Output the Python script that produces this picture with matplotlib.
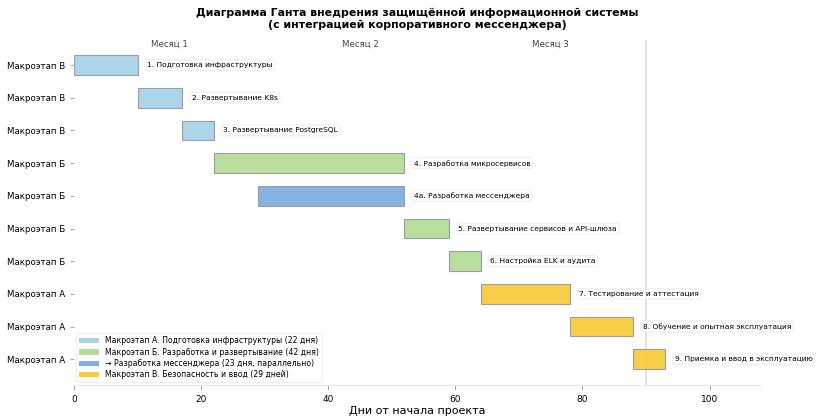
import matplotlib.pyplot as plt
from matplotlib.patches import Patch

plt.rcParams['font.family'] = ['DejaVu Sans']

# tasks (top to bottom)
task_names = [
    "1. Подготовка инфраструктуры",
    "2. Развертывание K8s",
    "3. Развертывание PostgreSQL",
    "4. Разработка микросервисов",
    "4а. Разработка мессенджера",
    "5. Развертывание сервисов и API-шлюза",
    "6. Настройка ELK и аудита",
    "7. Тестирование и аттестация",
    "8. Обучение и опытная эксплуатация",
    "9. Приемка и ввод в эксплуатацию",
]
starts = [0, 10, 17, 22, 29, 52, 59, 64, 78, 88]
durations = [10, 7, 5, 30, 23, 7, 5, 14, 10, 5]
groups = ["A", "A", "A", "B", "M", "B", "B", "C", "C", "C"]
# y tick labels as they appear on the chart
ytick_labels = ["Макроэтап В"] * 3 + ["Макроэтап Б"] * 4 + ["Макроэтап А"] * 3

group_colors = {"A": "#a9d3e8", "B": "#b5dd98", "M": "#7fb0e0", "C": "#f8cb3e"}
legend_labels = [
    ("A", "Макроэтап А. Подготовка инфраструктуры (22 дня)"),
    ("B", "Макроэтап Б. Разработка и развертывание (42 дня)"),
    ("M", "→ Разработка мессенджера (23 дня, параллельно)"),
    ("C", "Макроэтап В. Безопасность и ввод (29 дней)"),
]

month_names = ["Месяц 1", "Месяц 2", "Месяц 3"]
month_centers = [15, 45, 75]
month_lines = [90]

fig, ax = plt.subplots(figsize=(8.22, 4.16), dpi=100)
fig.subplots_adjust(left=0.09, right=0.925, top=0.905, bottom=0.075)

ypos = list(range(len(task_names)))
for y, s, d, g, name in zip(ypos, starts, durations, groups, task_names):
    ax.barh(y, d, left=s, height=0.6, color=group_colors[g],
            edgecolor="#9a9a9a", linewidth=0.8, alpha=0.95)
    ax.text(s + d + 1.5, y, name, va="center", ha="left", fontsize=5.4,
            bbox=dict(boxstyle="round,pad=0.3", facecolor="white",
                      edgecolor="#eeeeee", alpha=0.8))

for m in month_lines:
    ax.axvline(m, color="#dddddd", linewidth=1.2, zorder=0)

ax.set_yticks(ypos)
ax.set_yticklabels(ytick_labels, fontsize=6.2)
ax.invert_yaxis()
ax.set_xlim(0, 108)

for name, xc in zip(month_names, month_centers):
    ax.text(xc, -0.5, name, ha="center", va="bottom", fontsize=6.2,
            color="#444444")

ax.set_xticks([0, 20, 40, 60, 80, 100])
ax.tick_params(axis="x", labelsize=6.5, color="#aaaaaa")
ax.tick_params(axis="y", color="#aaaaaa", length=3)
ax.set_xlabel("Дни от начала проекта", fontsize=8, labelpad=2)

for side in ["top", "right", "left"]:
    ax.spines[side].set_visible(False)
ax.spines["bottom"].set_color("#e6e6e6")

ax.set_title("Диаграмма Ганта внедрения защищённой информационной системы\n"
             "(с интеграцией корпоративного мессенджера)",
             fontsize=7.9, fontweight="bold", pad=8, linespacing=1.3)

handles = [Patch(facecolor=group_colors[g], edgecolor="none", label=lab)
           for g, lab in legend_labels]
ax.legend(handles=handles, loc="lower left", fontsize=5.6, frameon=True,
          framealpha=0.9, edgecolor="#eeeeee", borderaxespad=0.3,
          handlelength=2.5, labelspacing=0.3)

fig.savefig("out.png", dpi=100)
